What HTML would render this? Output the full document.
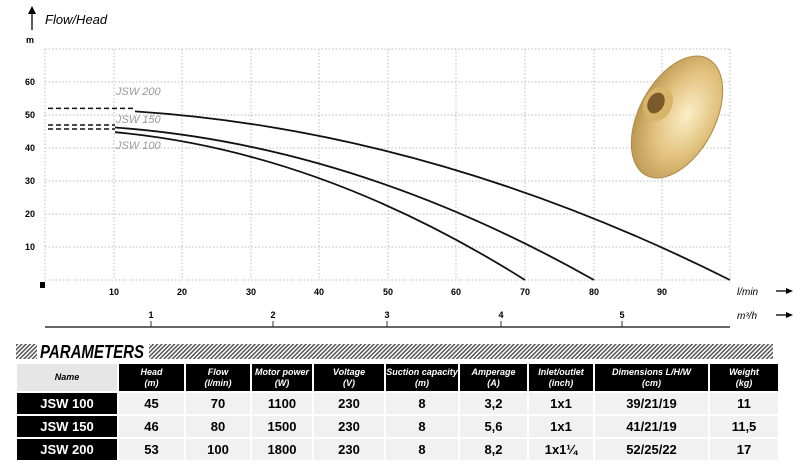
<!DOCTYPE html>
<html><head><meta charset="utf-8"><style>
body{margin:0;width:812px;height:469px;background:#fff;overflow:hidden;font-family:"Liberation Sans",sans-serif;}
svg{position:absolute;left:0;top:0}
table{position:absolute;left:15px;top:362px;border-collapse:separate;border-spacing:2px 2px;font-family:"Liberation Sans",sans-serif;}
td{text-align:center;padding:0;}
.h td{background:#000;color:#fff;font-style:italic;font-weight:bold;font-size:9px;height:27px;line-height:11px;}
.h td.n{background:#e6e6e6;color:#000;}
.r td{background:#f1f1f1;font-weight:bold;font-size:13px;height:21px;}
.r td.n{background:#000;color:#fff;}
</style></head><body>
<svg width="812" height="469" viewBox="0 0 812 469">
<defs>
<pattern id="hat" width="3" height="3" patternUnits="userSpaceOnUse" patternTransform="rotate(45)"><rect width="3" height="3" fill="#fff"/><rect width="1.5" height="3" fill="#555"/></pattern>
<radialGradient id="gold" cx="0.6" cy="0.45" r="0.7"><stop offset="0" stop-color="#fbeec8"/><stop offset="0.5" stop-color="#e2c27e"/><stop offset="1" stop-color="#b08a44"/></radialGradient>
<clipPath id="c200"><rect x="135" y="0" width="700" height="300"/></clipPath>
<clipPath id="c1"><rect x="115" y="0" width="700" height="300"/></clipPath>
</defs>
<g stroke="#bbb" stroke-width="1" stroke-dasharray="1.5,2">
<line x1="45" y1="49" x2="730" y2="49"/><line x1="45" y1="82" x2="730" y2="82"/><line x1="45" y1="115" x2="730" y2="115"/><line x1="45" y1="148" x2="730" y2="148"/><line x1="45" y1="181" x2="730" y2="181"/><line x1="45" y1="214" x2="730" y2="214"/><line x1="45" y1="247" x2="730" y2="247"/><line x1="45" y1="280" x2="730" y2="280"/>
<line x1="45" y1="49" x2="45" y2="280"/><line x1="114" y1="49" x2="114" y2="280"/><line x1="182" y1="49" x2="182" y2="280"/><line x1="251" y1="49" x2="251" y2="280"/><line x1="319" y1="49" x2="319" y2="280"/><line x1="388" y1="49" x2="388" y2="280"/><line x1="456" y1="49" x2="456" y2="280"/><line x1="525" y1="49" x2="525" y2="280"/><line x1="594" y1="49" x2="594" y2="280"/><line x1="662" y1="49" x2="662" y2="280"/><line x1="730" y1="49" x2="730" y2="280"/>
</g>
<g transform="rotate(28 677 117)">
<ellipse cx="677" cy="117" rx="38" ry="66" fill="url(#gold)" stroke="#b08a44" stroke-width="1"/>
</g>
<ellipse cx="658" cy="104" rx="14" ry="18" transform="rotate(28 658 104)" fill="#d8b468"/>
<ellipse cx="656" cy="103" rx="8" ry="11" transform="rotate(28 656 103)" fill="#7a5a2a"/>
<g fill="none" stroke="#111" stroke-width="1.8">
<path d="M45 108.4 Q387.5 108.4 730 280" clip-path="url(#c200)"/>
<path d="M45 125 Q319.5 125 594 280" clip-path="url(#c1)"/>
<path d="M45 129 Q285 129 525 280" clip-path="url(#c1)"/>
<g stroke-dasharray="5,3" stroke-width="1.5"><line x1="48" y1="108.4" x2="135" y2="108.4"/><line x1="48" y1="125" x2="115" y2="125"/><line x1="48" y1="129" x2="115" y2="129"/></g>
</g>
<g font-style="italic" font-size="11" fill="#999"><text x="116" y="95">JSW 200</text><text x="116" y="123">JSW 150</text><text x="116" y="149">JSW 100</text></g>
<line x1="32" y1="30" x2="32" y2="12" stroke="#000" stroke-width="1.3"/><polygon points="28,14 32,6 36,14" fill="#000"/>
<text x="45" y="24" font-style="italic" font-size="13">Flow/Head</text>
<text x="26" y="43" font-size="9" font-weight="bold">m</text>
<g font-size="9" font-weight="bold" text-anchor="middle"><text x="30" y="85">60</text><text x="30" y="118">50</text><text x="30" y="151">40</text><text x="30" y="184">30</text><text x="30" y="217">20</text><text x="30" y="250">10</text>
<text x="114" y="295">10</text><text x="182" y="295">20</text><text x="251" y="295">30</text><text x="319" y="295">40</text><text x="388" y="295">50</text><text x="456" y="295">60</text><text x="525" y="295">70</text><text x="594" y="295">80</text><text x="662" y="295">90</text>
<text x="151" y="318">1</text><text x="273" y="318">2</text><text x="387" y="318">3</text><text x="501" y="318">4</text><text x="622" y="318">5</text></g>
<rect x="40" y="282" width="5" height="6" fill="#000"/>
<line x1="45" y1="327" x2="730" y2="327" stroke="#333" stroke-width="1.5"/>
<g stroke="#333"><line x1="151" y1="321" x2="151" y2="327"/><line x1="273" y1="321" x2="273" y2="327"/><line x1="387" y1="321" x2="387" y2="327"/><line x1="501" y1="321" x2="501" y2="327"/><line x1="622" y1="321" x2="622" y2="327"/></g>
<text x="737" y="295" font-size="10" font-style="italic">l/min</text>
<text x="737" y="319" font-size="10" font-style="italic">m³/h</text>
<g stroke="#000" stroke-width="1.3"><line x1="776" y1="291" x2="788" y2="291"/><line x1="776" y1="315" x2="788" y2="315"/></g>
<polygon points="786,288 793,291 786,294" fill="#000"/><polygon points="786,312 793,315 786,318" fill="#000"/>
<rect x="16" y="344" width="757" height="15" fill="url(#hat)"/>
<rect x="37" y="341" width="112" height="19" fill="#fff"/>
<text x="40" y="358" font-size="18" font-weight="bold" font-style="italic" textLength="104" lengthAdjust="spacingAndGlyphs">PARAMETERS</text>
</svg>
<table>
<tr class="h"><td class="n" style="width:100px">Name</td><td style="width:65px">Head<br>(m)</td><td style="width:64px">Flow<br>(l/min)</td><td style="width:60px">Motor power<br>(W)</td><td style="width:70px">Voltage<br>(V)</td><td style="width:72px">Suction capacity<br>(m)</td><td style="width:67px">Amperage<br>(A)</td><td style="width:64px">Inlet/outlet<br>(inch)</td><td style="width:113px">Dimensions L/H/W<br>(cm)</td><td style="width:68px">Weight<br>(kg)</td></tr>
<tr class="r"><td class="n">JSW 100</td><td>45</td><td>70</td><td>1100</td><td>230</td><td>8</td><td>3,2</td><td>1x1</td><td>39/21/19</td><td>11</td></tr>
<tr class="r"><td class="n">JSW 150</td><td>46</td><td>80</td><td>1500</td><td>230</td><td>8</td><td>5,6</td><td>1x1</td><td>41/21/19</td><td>11,5</td></tr>
<tr class="r"><td class="n">JSW 200</td><td>53</td><td>100</td><td>1800</td><td>230</td><td>8</td><td>8,2</td><td>1x1¼</td><td>52/25/22</td><td>17</td></tr>
</table>
</body></html>
